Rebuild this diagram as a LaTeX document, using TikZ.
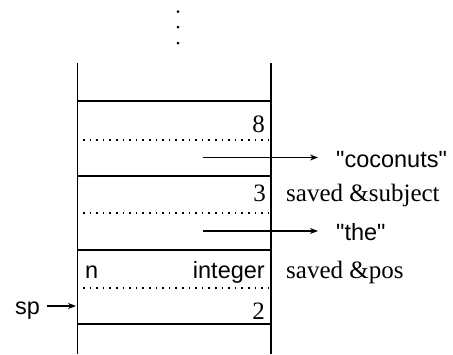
\documentclass[tikz,border=0pt]{standalone}
\usepackage{fontspec}
\setmainfont{Liberation Serif}
\setsansfont{Liberation Sans}
\newfontfamily\plainsans{Liberation Sans}
\usetikzlibrary{arrows.meta}
\begin{document}
\begin{tikzpicture}[x=1pt,y=-1pt,
  wall/.style={line width=1.3pt},
  sep/.style={line width=1.3pt},
  dotsep/.style={line width=1.8pt,dash pattern=on 1.6pt off 5pt},
  arr/.style={line width=1.1pt,-{Stealth[length=8pt,width=6pt,inset=2.5pt]}},
  serifl/.style={inner sep=0pt,font=\fontsize{25}{28}\selectfont},
  sansl/.style={inner sep=0pt,font=\plainsans\fontsize{23.5}{28}\selectfont}]
\useasboundingbox (0,0) rectangle (453,354);
% continuation dots
\foreach \yy in {11.5,27,43} \fill (178,\yy) circle (1.5);
% walls
\draw[wall] (77.5,63) -- (77.5,354);
\draw[wall] (271,63) -- (271,354);
% cell separators
\foreach \yy in {101,176,250,324} \draw[sep] (77.5,\yy) -- (271,\yy);
% dotted separators
\foreach \yy in {140,213,288} \draw[dotsep] (83,\yy) -- (268,\yy);
% cell contents
\node[serifl,anchor=base east] (eight) at (265,132) {8};
\node[serifl,anchor=base east] (three) at (266,201) {3};
\node[serifl,anchor=base east] (two) at (265,319) {2};
\node[sansl,anchor=base west] (n) at (85,278) {n};
\node[sansl,anchor=base east] (int) at (265,278) {integer};
% outside labels
\node[sansl,anchor=base west] (coco) at (336,167) {"coconuts"};
\node[serifl,anchor=base west] (subj) at (286,201) {saved \&subject};
\node[sansl,anchor=base west] (the) at (336,240) {"the"};
\node[serifl,anchor=base west] (pos) at (286,278) {saved \&pos};
\node[sansl,anchor=base west] (sp) at (15,314) {sp};
% pointers
\coordinate (c1) at (203,157.5);
\coordinate (c2) at (203,231);
\coordinate (spw) at (77.5,306);
\draw[arr,shorten >=18pt] (c1) -- (c1 -| coco.west);
\draw[arr,shorten >=18pt] (c2) -- (c2 -| the.west);
\draw[arr,shorten <=7pt,shorten >=1.5pt] (sp.east |- spw) -- (spw);
\end{tikzpicture}
\end{document}
